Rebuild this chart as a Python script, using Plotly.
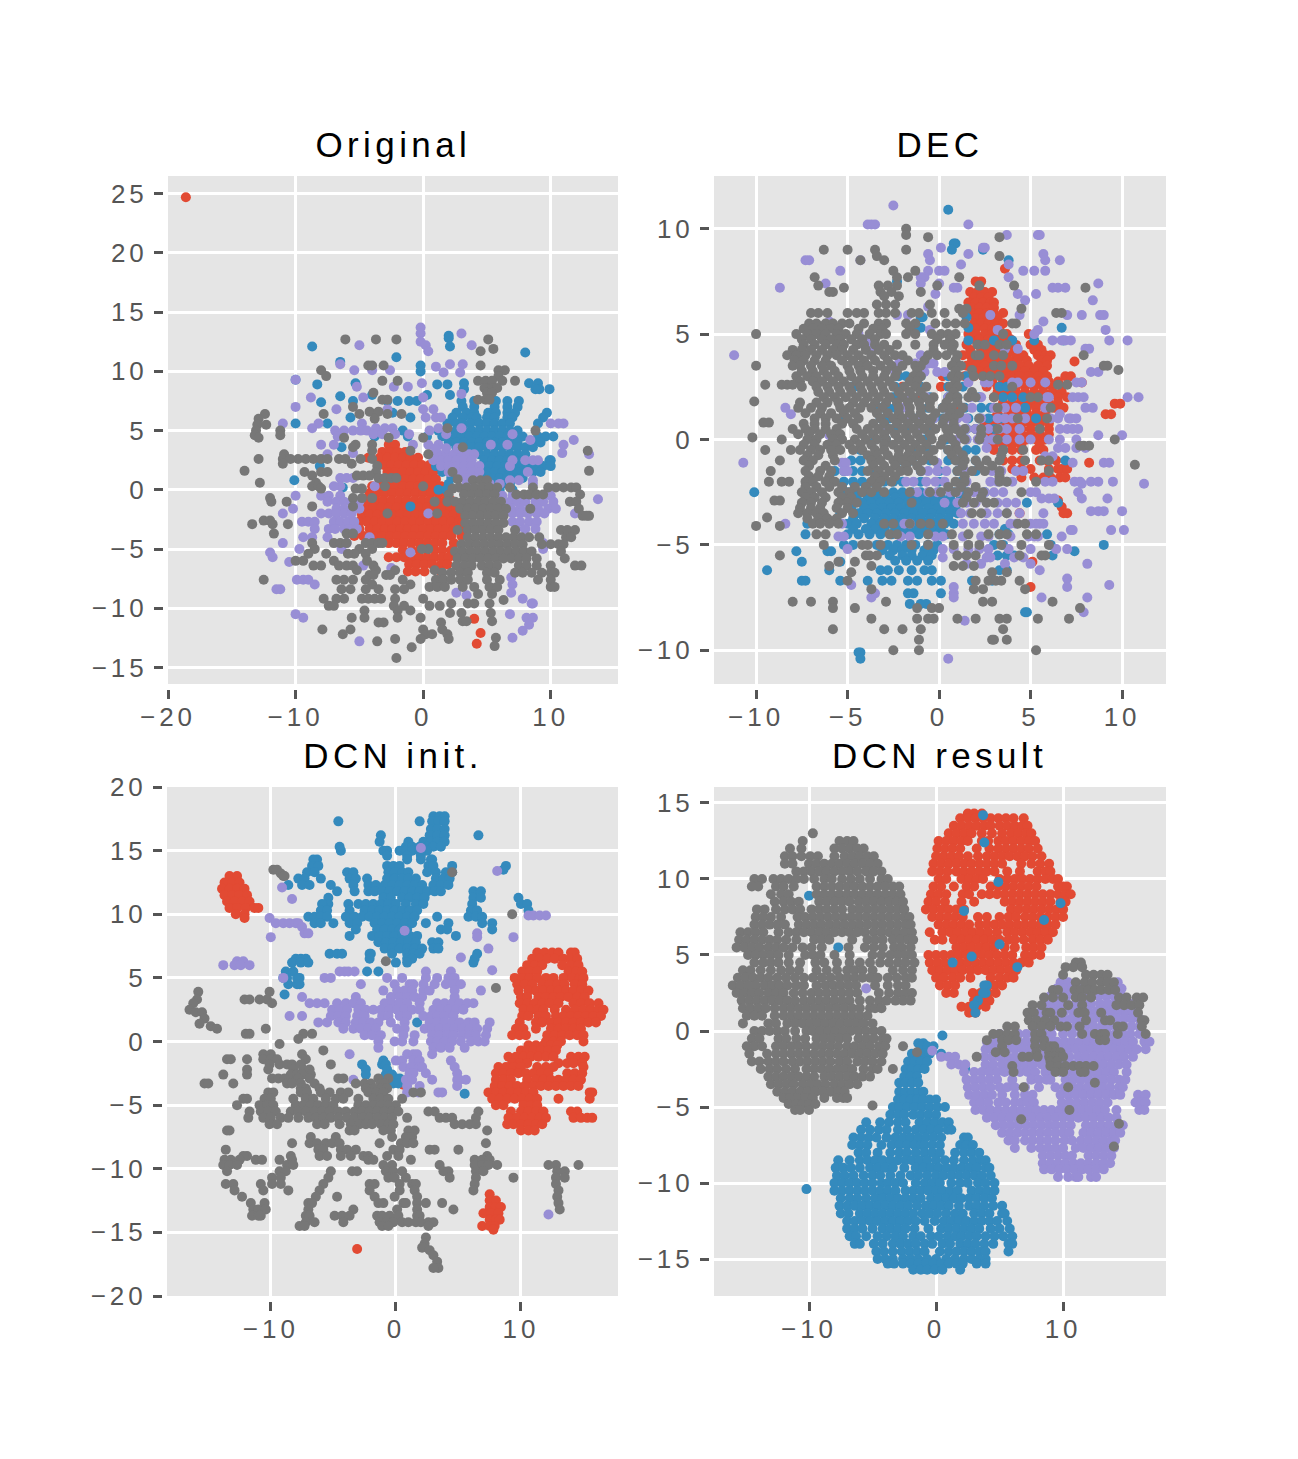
import plotly.graph_objects as go

W, H = 1298, 1459
TITLES = ["Original", "DEC", "DCN init.", "DCN result"]
BOXES = [(168, 618, 176, 684), (714, 1166, 176, 684), (167, 618, 787, 1296), (714, 1166, 787, 1296)]
XR = [(-20, 15.27), (-12.3, 12.4), (-18.3, 17.76), (-17.48, 18.1)]
YR = [(-16.4, 26.5), (-11.6, 12.5), (-20, 20), (-17.43, 16.05)]
XT = [[-20, -10, 0, 10], [-10, -5, 0, 5, 10], [-10, 0, 10], [-10, 0, 10]]
YT = [[-15, -10, -5, 0, 5, 10, 15, 20, 25], [-10, -5, 0, 5, 10], [-20, -15, -10, -5, 0, 5, 10, 15, 20], [-15, -10, -5, 0, 5, 10, 15]]
COLORS = ["#E24A33", "#348ABD", "#988ED5", "#777777"]

# Every row is (y, [x, x, ...]).
P1_RED = [(24.7,[-18.6]),(3.8,[-2.7,-2.2]),(3.2,[-3.2,-2.6,-2,-1.4]),(2.7,[-4.3,-3.4,-2.8,-2.2,-1.6,-1,-.4]),(2.1,[-3.1,-2.5,-1.9,-1.3,-.7,-.1,.5]),(1.5,[-2.8,-2.2,-1.6,-1,-.4,.2,.8]),(.9,[-3.4,-2.6,-2,-1.4,-.8,-.2,.4,1]),(.3,[-4,-3.4,-2.8,-2.2,-1.6,-1,-.4,.2,.8,1.4]),(-.3,[-4.2,-3.6,-3,-2.4,-1.8,-1.2,-.6,0,.6,1.2,1.8]),(-.9,[-4.3,-3.7,-3.1,-2.5,-1.9,-1.3,-.7,-.1,.5,1.1,1.7,2.2]),(-1.5,[-4.5,-3.9,-3.3,-2.7,-2.1,-1.5,-.9,-.3,.3,.9,1.5,2.1,2.6]),(-2.1,[-4.8,-4.2,-3.6,-3,-2.4,-1.8,-1.2,-.6,0,.6,1.2,1.8,2.4,3]),(-2.7,[-5,-4.4,-3.8,-3.2,-2.6,-2,-1.4,-.8,-.2,.4,1,1.6,2.2,2.8,3.1]),(-3.3,[-5,-4.2,-3.6,-3,-2.4,-1.8,-1.2,-.6,0,.6,1.2,1.8,2.4,3.1]),(-3.9,[-5.4,-4.7,-3.8,-3.2,-2.6,-2,-1.4,-.8,-.2,.4,1,1.6,2.2,3]),(-4.5,[-2.7,-2.1,-1.5,-.9,-.3,.3,.9,1.5,2.4]),(-5.1,[-1.6,-.9,-.3,.3,.9,1.5,2.2]),(-5.7,[-2.7,-2.1,-1.5,-.9,-.3,.3,.9,1.5,2,2.6]),(-6.3,[-1.1,-.5,.1,.7,1.4,1.9]),(-6.9,[-1.2,-.6,.1,1.4]),(-10.9,[4]),(-12.1,[4.5]),(-13,[4.2])]
P1_BLUE = [(13,[2]),(12.8,[2]),(12.1,[-8.7,2.1]),(11.6,[8]),(11.2,[-2.1]),(10.8,[-6.5]),(10.5,[-.2]),(10,[-.2]),(9.3,[-10]),(9,[-5.3,3.2,8.3,9]),(8.9,[-8.3,1.1,1.9]),(8.5,[3.2,9.1,9.9,8.8]),(8,[-4,.3,2.1]),(7.9,[-6.5]),(7.5,[-5.5,-2.8,-2,-1.1,-.5,3,4,5.7,6.6,7.5]),(7.4,[-8]),(7,[3.1,4,5.6,6.6,7.4]),(6.5,[-2.4,2.6,3.4,4,5.1,5.7,6.6,7.2,9.7]),(6.1,[-5.7,-1,2.3,3.1,3.8,4.2,5,5.6,6.6,7,9.4]),(5.6,[-10,-7.5,1.9,2.6,3.1,3.7,4.4,5,5.6,6.2,6.8,9]),(5,[-1.6,1.2,2,2.6,3.2,3.8,4.4,5,5.6,6.2,6.8,7.4]),(4.5,[-3.8,-1.2,.3,1.5,2.4,3,3.6,4.2,4.8,5.4,6,6.6,7.2,7.8,9,9.6,10.2]),(4,[2,2.6,3.2,3.8,4.4,5,5.6,6.2,6.8,7.4,8.6,9.2]),(3.6,[-6.4,2.6,3.2,3.8,4.4,5,5.6,6.2,6.8,7.4,8,8.6]),(3,[4.4,5,5.6,6.2,6.8,7.4,8]),(2.5,[4.8,5.4,6,6.6,7.2,7.8,9.9,10]),(2,[-8.1,1,4.6,5.2,5.8,6.4,7,7.6,8.2,8.8,9.4,10]),(1.5,[1.5,5,5.6,6.2,6.8,7.4,8,8.6,9.2]),(1,[2.2,4.6,5.4,6,6.6,7.2,7.8]),(.8,[-10.1]),(.5,[2,5.6,6.2,6.8]),(.2,[-6.3]),(0,[1.2,1.8,5,6,7]),(-1.4,[-1])]
P1_PURPLE = [(13.7,[-.2]),(13.2,[3,-.2]),(12.5,[-.2]),(12.2,[.2,3.8,-5]),(11.7,[.4]),(10.6,[-6.5,2.1,3.1]),(10.4,[1]),(10.1,[-2.6,-5.4,-4]),(9.9,[1.6,2.9]),(9.3,[-10]),(9,[-.1]),(8.7,[-1.2,-2.3,-5.2]),(8.1,[3]),(7.8,[-8.8,-4.7,0]),(7,[-10]),(6.8,[-2.8,0,.8,-6.8]),(6.1,[.2,1,1.4]),(5.6,[-11,-8.2,-4.8,10,10.6,11]),(5.2,[-8.7,-3.7,-3,-2.4,1.2,3]),(5,[-6.2,-6.9,-5.5,-4.9,-4.4,.5]),(4.7,[-3.9,-3.2,-2.2,-1.1,1.8,7]),(4.5,[-6.7]),(4.2,[8.4,11.8]),(3.8,[-8,-7,-.8,.4,1.2,5.3,6.6,11]),(3.1,[-5.5,10.9]),(3,[13,-7.5,.6,1.2,1.8,2.4,3,3.6,4]),(3.5,[1,1.8,2.7]),(2.5,[.8,1.4,2,2.6,3.2,3.8,7,8,8.6,9]),(2,[1.4,2,2.6,3.2,3.8,4.4,6.8]),(1.5,[2,2.6,3.2,3.8,4.4,8.2]),(1,[-6.5,-6,-5.5,2.8,3.4,4]),(.8,[8.6,7.5,6.8]),(.5,[3.4,5.2,6,8.6]),(.3,[-6.5,-7,-3.8]),(-.5,[-10,-8,-7.4,-6.5,6.2,7,7.8,8.6,9.4,10]),(-.8,[13.7]),(-1,[-7.5,-6.8,-6.2,-5.6,-5,6,6.8,7.4,8,8.8,9.4,10.2]),(-1.6,[-10.2,-6.8,-6.2,-5.6,-5,6.9,7.6,8.3,9,9.8,10.4]),(-2,[-11,-8,-7.4,-6.8,-6.2,-5.6,.4,7,7.6,8.2,8.9,9.5,11.9]),(-2.7,[-9.5,-9,-8.5,-7,-6.5,-5.9,-5.4,7,7.6,8.3,8.9]),(-3.3,[-8.5,-7.4,-6.9,-6.2,-5.8,-5.2,7.3,8,8.8]),(-4,[-9.4,-8.7,-7.5,-4.2]),(-4.5,[-11,-6,9.4]),(-5,[-9.7,9.4,-6.4]),(-5.3,[-12,-1]),(-5.7,[-11.8]),(-6.1,[-10.5]),(-6.4,[-4.7]),(-6.6,[-2.5]),(-7.4,[6.9]),(-7.6,[-9.9,-9.4,-9]),(-8,[7,-8.5]),(-8.4,[-11.2,-11.5]),(-8.7,[2.6,6.9]),(-8.9,[3.4]),(-9.2,[7.8]),(-9.6,[8.5,8.6]),(-10.5,[6.8,-10]),(-10.8,[8.1,8.6,-9.4]),(-11.4,[8.3]),(-11.9,[7.8]),(-12.5,[7]),(-12.8,[-5])]
P1_GRAY = [(12.7,[-6.1,-3.7,-2.1,5.1]),(11.9,[5.5]),(11.7,[4.5]),(10.5,[-4.3,-4,-3.1,4.5]),(10.1,[-8,6.4,5.9]),(9.6,[-7.6,5.9]),(9.2,[-2,-3.2,4.3,4.9,5.4,6.2,7.2]),(8.6,[4.8,5.4,5.8]),(8.2,[-3.9,5,5.4]),(7.6,[-3.2,-2.8,4.3,4.9,5.2]),(7,[-5.5]),(6.6,[-4.2,-3.5]),(6.4,[-12.4,-7.8,-5,-1.7,-2.8]),(6,[-12.9,-3.8]),(5.5,[-13,-12.3]),(5.2,[1.9]),(5,[-13.1,-11.2,8.8]),(4.6,[-13.2,-11.2]),(4.4,[-12.9,-6.2,-2.7,0]),(3.8,[-5.3,-4]),(3.6,[3.1,-5.5]),(3.3,[-4,-1,12.9]),(3,[-10.9,.4]),(2.6,[-12.9,-11,-10.4,-9.8,-9.2,-8.6,-8,-7.5,-6.6,-6.1,-4.9,-4]),(2.2,[-11,-5.6]),(2,[-3.6]),(1.6,[-14,13]),(1.5,[-9.3,-8,-7.5,-3.7,2.3]),(1.2,[-8.7,-5.2,-4.7,-4.2]),(1,[-3.5,-3,-2.5,-2.1]),(.9,[2.7]),(.6,[-8.4,-12.8]),(.3,[-8.7,-8.2,-3,0]),(.1,[-8,-5.3,-4.8,2.3]),(-.7,[-5.5,-4.8,-12,-4]),(-1,[-10.7,-11.9,.9]),(-1.4,[-8.7,-5.5]),(-2,[1.1,-2.8]),(-2.6,[-12.5,-12]),(-2.9,[-13.4,-11.8,-10.6]),(-3.7,[-11.7,-6,-5.5]),(-4.5,[-8.7,-7,-6.5,-6,-4.5,-4,-3.5,-3.2]),(-5,[-8.5,-5,-4,.4,-.1]),(-5.4,[-9,-7.6,-5.4,-5.9,-4.5]),(-6,[-10,-9.4,-7,-4.4]),(-6.4,[-8.6,-8,-6.6,-6,-5.5,-3.9]),(-6.8,[-5.2,-3.7,-2.2,.9]),(-7.2,[-4.2,-3.9,-2.9,-2.6]),(-7.6,[-12.5,-6.8,-6.2,-5.5,-4.5,-1.6]),(-8,[-4,-1,1]),(-8.4,[-3.5,-4.5,-2.2,-1.5,-5.7,-6.4]),(-9.2,[-6.8,-7.8,-6.2,-4.8,-4.3,-3.8,-3.3,-2.2,0]),(-9.8,[-7.4,-7,-2.3,-1.5,1.3,.5]),(-10.2,[-2,-1,-4.6]),(-10.8,[-2,-5.6,-4.6,-.2]),(-11.2,[-3.5,-3.1,1.4]),(-11.8,[-7.9,-5.7,0,1.5]),(-12.2,[-6.3,.2,.7,1.9]),(-12.6,[-2.2,-.2,2]),(-12.8,[-3.6]),(-13.3,[-.9]),(-14.2,[-2.1]),(-10.4,[3,5.3,2.1]),(-11.1,[3.1,3.4,5.4]),(-9.6,[3.5,4,5.2,2.2]),(-12.5,[5.7]),(-13.2,[5.6]),(.8,[3.9,4.5,5]),(.2,[2.8,3.4,4,4.6,5.2,5.8,6.8,8.6,9.8,10.4,11,11.6,12]),(-.4,[2,3.2,3.8,4.4,5,5.6,7.3,7.9,8.3,8.9,9.4,12.3]),(-1,[1.9,2.5,3.1,3.7,4.3,4.9,5.5,6.1,11.5,12]),(-1.6,[2.9,3.5,4.1,4.7,5.3,5.9,6.5,8.4,12.2]),(-2.2,[3.3,3.9,4.5,5.1,5.7,6.3,12.5,13,12.8]),(-2.8,[3.3,3.9,4.5,5.1,5.7,6.3]),(-3.4,[2.7,3.5,4.1,4.7,5.3,5.9,7.2,10.8,11.3,11.9]),(-4,[3.5,4.1,4.7,5.3,5.9,6.5,7.1,7.7,8.3,9.1,11.2,11.6]),(-4.6,[3,3.6,4.2,4.8,5.4,6,6.6,7.2,7.8,9.3,10,10.6,11]),(-5.2,[2.5,3.1,3.7,4.3,4.9,5.5,6.1,6.7,7.3,7.9,8.5,10.8]),(-5.8,[2.7,3.3,3.9,4.5,5.1,5.7,6.3,6.9,7.5,8.1,8.9,11.1]),(-6.4,[2.6,3.2,3.8,4.6,5.2,5.8,7.5,8.1,8.9,10,11.9,12.4]),(-7,[1.5,2.2,2.9,3.5,5,5.6,7.2,7.8,8.5,9.3,10,10.3]),(-7.6,[1,1.6,2.2,2.9,3.5,5,6,9,10]),(-8.2,[.5,1.1,1.7,3.1,4,5.2,5.8,10,10.3]),(-8.8,[4.3,5.4]),(-9.3,[6.3])]

P2_RED = [(8.1,[3.6]),(7.5,[2,2.3]),(7,[1.7,2.1,2.5,2.9]),(6.75,[1.9,2.3,2.7]),(6.5,[1.6,2,2.4,2.8,3]),(6.25,[1.8,2.2,2.6,3]),(6,[1.8,2.2,2.6,3,3.5]),(5.75,[2,2.4,2.8,3.2]),(5.5,[1.9,2.3,2.7,3.1,3.5]),(5.25,[2,2.5,2.9,3.3]),(5,[1.6,2,2.5,2.9,3.3,3.7,4.9]),(4.75,[1.7,2.2,2.7,3.1,3.5,3.9]),(4.5,[1.5,2.1,2.5,3,3.4,3.8,4.2,5,5.4]),(4.25,[1.7,2.3,2.8,3.2,3.6,4,5.2,5.6]),(4,[1.3,1.7,2.2,2.7,3.2,3.7,4.2,4.6,5.4,5.8,6.1]),(3.75,[1.8,2.3,2.8,3.3,3.8,4.3,4.8,5.6,5.9]),(3.7,[7.4]),(3.5,[1.5,2,2.5,3,3.5,3.9,4.4,4.9,5.4,5.9]),(3.25,[2.2,2.7,3.2,3.7,4.2,4.7,5.2,5.7]),(3,[.2,1.4,1.9,2.4,2.9,3.4,3.9,4.4,4.9,5.4,5.9,6.9,7.2]),(2.75,[2.9,3.5,4,4.5,5,5.5,6,6.5]),(2.7,[7.8]),(2.5,[.1,-2,2.6,3.2,3.7,4.2,4.7,5.2,5.7,6.2,6.7]),(2.25,[3.2,3.7,4.2,4.7,5.2,5.7,6.2,6.7]),(2,[-1,3,3.5,4,4.5,5,5.5,6,6.5,7]),(1.75,[3.5,4,4.5,5,5.5,6,6.5]),(1.7,[9.6,9.9]),(1.5,[.8,3.8,4.3,4.8,5.3,5.8,6.3,6.8]),(1.25,[3.2,3.8,4.3,4.8,5.3,5.8]),(1.2,[9.1,9.4]),(1,[3,3.5,4,4.5,5,5.5,6]),(.75,[2.5,3,3.5,4,4.5,5,5.5,6]),(.5,[2,2.5,3,3.5,4,4.5,5,5.5,6]),(.25,[2.5,3,3.5,4,4.5,5,5.5,6]),(0,[2.8,3.3,3.8,4.3,4.8,5.3,5.8]),(-.25,[3,3.5,4,4.5,5.5]),(-.5,[3,3.5,4,4.5,5.3,5.7]),(-1,[1,3.5,4,4.5,5.5,5.9,6.4]),(-1.1,[8.2]),(-1.4,[4,4.5,5,6,6.5,6.7,7]),(-1.8,[6.6,6.9,4.5,5.2,5.7,6.1]),(-2.9,[6.5]),(-3.2,[6.7]),(-3.5,[7,6.8,4.4]),(-5.8,[5.1]),(-7,[5])]
P2_BLUE = [(10.9,[.5]),(9.3,[.9,.8]),(9,[.7,2.4]),(8.5,[3.8]),(7.5,[-2.3]),(5.8,[-1,-.9,1.5]),(5.3,[-1,-1.2,6.7,1.6]),(4.7,[3,1.6,4,5.2,6.8]),(3,[-2.2,-1.8,-1,.5,1,1.5]),(2.5,[-4.8,-4.4,-2.4,-1,.5,1.3,3.3,3.7]),(2,[-2.5,-1.5,-.5,.5,1,2.2,3.5,4,4.6]),(1.5,[-3.2,-2.8,-2.4,-1.7,-.6,.2,1.4,2.3,2.8,4.7]),(1,[-5.3,-3.2,-2.7,-2.2,-1.2,-.3,.2,1.6,2.2,2.7,3.4,5.3]),(.5,[-3.1,-2.5,-1.8,-.7,1.5,2,3]),(0,[-3.5,-2.9,-.8,.4,1.5,2.2]),(-.5,[-4.3,-1.2,-.5,.5,1.5,2,3.5]),(-1,[-4.8,-4.3,-2.1,-1.5,-.5,.5,1,2,6.9]),(-1.5,[-5.7,-5.2,-4.7,-4.2,-3.5,-1,0,1,2]),(-2,[-5.2,-4.7,-4.2,-3.7,-3,-2.5,-2,-1,0,1.2]),(-2.5,[-10.1,-5,-4.5,-4,-3.5,-3,-2.5,-2,-1.5,-1,-.5,0,.8,1.5,2.5]),(-2.75,[-4.5,-3.9,-3.4,-2.9,-2.4,-1.9,-1.4,-.9,-.4,.1,.6,1.2]),(-3,[-4.7,-4.2,-3.7,-3.2,-2.7,-2.2,-1.7,-1.2,-.7,-.2,.3,.8,4.8,6.5]),(-3.25,[-4.8,-4.1,-3.6,-3.1,-2.6,-2.1,-1.6,-1.1,-.6,-.1,.4,.9]),(-3.5,[-5.4,-4.4,-3.9,-3.4,-2.9,-2.4,-1.9,-1.4,-.9,-.4,.1,.6,1]),(-3.75,[-4.7,-4.1,-3.5,-3,-2.5,-2,-1.5,-1,-.5,0,.5]),(-4,[-7.2,-5,-4.5,-3.7,-3.2,-2.7,-2.2,-1.7,-1.2,-.7,-.2,.3,.8]),(-4.25,[-4.7,-4,-3.5,-3,-2.4,-1.9,-1.4,-.9,-.4,.1,3.6]),(-4.5,[-7.3,-5,-4.4,-3.8,-3.2,-2.6,-2.1,-1.6,-1.1,-.6,-.1,.4,3.3,3.8,5.9]),(-5,[-5.2,-4.7,-3.4,-2.8,-2.3,-1.8,-1.3,-.6,-.1,3,3.5,9,6.1]),(-5.25,[-3.1,-2.5,-2,-1.5,-.8,-.3]),(-5.3,[-7.8,-6.1,-5.9,7.4]),(-5.5,[-2.7,-2,-1.5,-.9,-.4,6.2,3.2,3.7,4.1]),(-5.75,[-2.4,-1.8,-1.2,-.6]),(-5.8,[-7.5,-5.4]),(-6.2,[-9.4,-6,-3.2,-2.8,-2.2,-1.5,-.8,-.4,3.3,3.7]),(-6.7,[-7.5,-7.3,-5.4,-3.9,-3.1,-2.6,-1.7,-1.2,-.4,.1,1.8,2.9]),(-7.3,[-1.7,-1.4,.1]),(-7.8,[-1.6,-1,-.7]),(-8.2,[4.7,4.8]),(-10.1,[-4.3,-4.4]),(-10.4,[-4.3])]
P2_PURPLE = [(11.1,[-2.5]),(10.2,[-3.9,-3.7,-3.5,1.6]),(9.7,[3.7,5.4,5.5]),(9.1,[.1,2.4,2.5]),(8.8,[-.6,1.6,5.7]),(8.5,[-7.3,-7.1,-4.3,-.5,6.6,5.8]),(8,[-5.4,-.6,0,.3,4.6,5.2,5.8]),(8.3,[1.2,3.8]),(7.7,[-.8,3.8,-1]),(7.4,[-6.2,-1,8.7,0]),(7.2,[-8.7,.8,1,6.2,6.5,6.9]),(6.9,[-.2,4.3,5.3]),(6.6,[4.7,8.4]),(6.3,[-.6]),(5.9,[-2.3,-1.7,2.8,4.4,7,7.8,8.8,9]),(5.6,[-6,5.7]),(5.2,[3.2,5.4,9.1,-.5]),(5,[-4.4,5.2]),(4.7,[-3.8,6.2,6.7,6.9,7.2,9.3,10.3]),(4.3,[-3.7,3.6,4.3,8,8.2]),(4,[-1,-11.2]),(3.6,[-1.3,-.6,-.3,-2.2]),(3.2,[-2.4,-.1,.3,-.8,8.3,8.7]),(2.7,[1.6,2.7,2.5,4,4.3,5,5.8,7.5,7.8]),(2,[-1.6,-.7,.5,1.7,2.3,5.9,6,7.3,7.6,7.9,10.3,10.9]),(1.5,[-8.4,-2,.4,1.8,3,3.6,4.2,5.8,8,8.4]),(1.2,[-8.1,6.6]),(1,[-1.1,-1.6,-.3,.4,1,1.5,2.3,3.2,3.6,4,4.7,6.1,6.5,7.1,7.2,7.5]),(.5,[-2.8,-1,.5,1,1.5,2,2.7,3.3,3.7,4.4,6.6,7,7.3,7.6]),(.2,[-6,8.7,10]),(0,[1,1.5,2.5,2.1,2.9,5,6,6.6,7.5,4.4,3.7,3]),(-.4,[6.5,6.9,7.5,8,2.6]),(-.8,[5.8,6.2]),(-1.1,[-10.7,7.3,-5.3,-5.1,-.1,9,9.3]),(-1.5,[-5.2,-5,-1,-.6,-.1,.4,1.4,2.9,3.4,4.2,4.6]),(-2,[-1.8,-1.4,-.7,-.2,.3,1.5,2.8,3.2,3.7,4,7.4,7.7,8.3,8.7,9.5,6.2,5.8]),(-2.1,[11.2,7.8]),(-2.5,[-1.2,-.6,-.1,.6,1,1.9,2.5,3,3.5,5,5.3,7.6]),(-2.8,[5.6,6,6.3,7.8,9.2]),(-3,[.3,1,1.5,2,2.6,3.2,3.7,4.2]),(-3.4,[8.3,8.7,9,10]),(-3.5,[1.2,1.7,2.6,3.2,3.7,4.4,5.7]),(-4,[-8.4,-5.3,-1.9,-1.6,1.3,1.9,2.5,3,3.9,4.2,5,5.3,5.5,5.7]),(-4.3,[7.2,7.3,9.4,10.1]),(-4.6,[-5.5,-5.2,-2.1,-1.6,-.2,.2,1.3,2.3,2.7,3.9,4.9,5.2,5.4,6.7]),(-5.2,[-5,.2,.8,1.6,2.2,2.7,3.8,5,6.4,7]),(-5.6,[.2,2.6,2.8,4.1,4.6]),(-5.9,[1.5,2.3,3.6,5,8.1]),(-6.2,[5.5]),(-6.6,[7]),(-6.9,[-4.8,9.3]),(-7,[.8,7]),(-7.3,[.8,-3.5]),(-7.5,[5.6,.8,8.1,-3.7]),(-8.2,[7.9]),(-8.6,[1.4]),(-10.4,[.5])]
P2_GRAY = [(10,[-1.8]),(9.7,[-1.8]),(9.6,[-.6,3.3]),(9,[-6.3,-5,-3.5,-1.8]),(8.7,[-3.4,3.3]),(8.5,[-3,-4.3]),(8,[-2.5,-1.3]),(7.7,[-6.8,-1.7,-2.3,1.1]),(7.3,[-6.6,-.1,2.2,4.1,-3.3,-2.8,-2.3]),(7.2,[-5.2,8]),(7,[-5.8,-6,-1,-3.2,-2.6]),(6.8,[-3,-2.2]),(6.4,[-.5,-3.4,-2.9,-2.4]),(6.2,[4.5,1.1,1.5]),(6,[-7,-6.6,-6.1,-5,-4.5,-4.1,-3.3,-2.9,-2.4,-1.5,-1.1,-.4,.3,1.3,6.7,6.4]),(5.5,[-7.1,-6.7,-6.2,-5.8,-5.3,-4.9,-4.1,-3.3,-2.9,-1.8,-1.3,-.2,.4,.9,1.4,4.2,4]),(5.25,[-7.4,-6.9,-6.4,-5.9,-5.5,-4.4,-3.6,-3.1,-1.6]),(5,[-7.8,-7.2,-6.7,-6.2,-5.6,-5.1,-4.5,-3.8,-3.2,-2.9,-1.8,-1.3,-.4,.1,.5,.9,3.5,-10]),(4.75,[-7.5,-7,-6.4,-5.9,-5.4,-4.8,-4.2,-3.5,-.1,.6]),(4.5,[-7.4,-6.8,-6.2,-5.6,-5.2,-4.5,-4.1,-3.5,-3,-2.3,-1.3,-.3,.3,.8,2.1,2.5,3.3,3.7]),(4.25,[-8,-7.5,-7,-6.4,-5.8,-5.3,-4.7,-4,-3.3,-2.7,-.3,.7]),(4,[-8.3,-7.8,-7.3,-6.7,-6.1,-5.6,-5,-4.4,-3.7,-3,-2.4,-2,-.6,-.1,.4,1,2,2.2,3,3.5,7.9]),(3.75,[-7.9,-7.4,-6.8,-6.2,-5.3,-4.7,-4.1,-3.5,-2.8,-1.7,-.8,.9]),(3.5,[-10,-8,-7.6,-7,-6.4,-5.9,-5,-4.4,-3.9,-3.2,-2.6,-2,-1.3,-1,.7,1.2,3,3.4,4,9,9.2]),(3.3,[9.8,1.8]),(3.25,[-7.5,-6.9,-6.3,-5.7,-4.9,-4.3,-3.6,-2.9,-2.3,-1.2,.9]),(3,[-7.8,-7.2,-6.7,-6.1,-5.5,-4.8,-4.2,-3.6,-3,-2.4,-1.4,-1,.7,1.1,1.9,2.4,2.8,3.3]),(2.75,[-7.6,-6.9,-6.4,-5.8,-5.2,-4.5,-3.9,-3.3,-2.7,-1.6,-1.2,.9]),(2.6,[-9.5,-8.6,-8.3,-8,6.5,7]),(2.5,[-7.5,-6.7,-6.1,-5.5,-4.9,-4.3,-3.7,-3.1,-2.5,-1.9,-1.3,-.7,.6,1,4]),(2.25,[-6.6,-6,-5.4,-4.8,-4.2,-3.6,-3,-2.2,-1.6,-1,.8,1.8]),(2,[-6.3,-5.7,-5.1,-4.5,-3.9,-3.3,-2.7,-2,-1.4,-.8,-.3,.6,1,1.6,2,3,5,5.4]),(1.8,[-10.1]),(1.75,[-7.6,-6.7,-6.1,-5.5,-4.7,-4.1,-3.5,-2.9,-2.3,-1.7,-1.1,-.5,.4,1]),(1.5,[-7.7,-7,-6.4,-5.4,-4.9,-4.3,-3.7,-3.1,-2.2,-1.6,-1,-.5,.2,.7,1.3,3.2,6.1]),(1.25,[-7.3,-6.5,-5.9,-5.2,-4.6,-3.4,-2.8,-2.2,-1.6,-1,-.2,.6,1.1]),(1,[-6.8,-6.2,-5.6,-5,-4.4,-3.2,-2.5,-2,-1.4,-.8,-.4,.3,.8,2.2,4.3,5.9]),(.8,[-9.6,-9.3]),(.75,[-7.4,-6.8,-6.2,-5.3,-4.7,-3.6,-3,-2.3,-1.7,-1.1,-.5,.2,.8]),(.5,[-8,-7.3,-6.8,-6.2,-5.6,-4.5,-3.9,-3.3,-2.7,-2,-1.4,-.8,-.2,.4,.9,1.4,2.3,3.2,5.5]),(.25,[-7.7,-7.1,-6.5,-5.9,-5.4,-4.2,-3.6,-3,-2.4,-1.8,-1.2,-.5,.5,1.2,2.3]),(.1,[-10.2]),(0,[-8.6,-7.2,-6.7,-5.8,-5.3,-4.6,-4,-3.4,-2.9,-2.2,-1.6,-1,-.4,.2,.7,1.4,2.2,3.2,9.6]),(-.25,[-7.4,-6.8,-6.1,-5.6,-4.9,-4.3,-3.7,-3,-2.5,-1.9,-1.3,-.7,.1,.9]),(-.3,[7.7,7.9,8.2]),(-.5,[-9.5,-8.1,-7.6,-7,-6.5,-5.9,-5.4,-4.7,-4.2,-3.5,-3,-2.2,-1.6,-1,-.3,.5,1,3.5,4.6]),(-.75,[-7.2,-6.6,-5.8,-3.9,-3.4,-2.8,-2.2,-1.7,-1.2,-.6,.7,1.3,3.4]),(-1,[-8.7,-7.4,-6.9,-5.7,-3.7,-3.2,-2.5,-2,-1.5,-.9,-.3,.9,1.4,2,2.6,3.3,4.7,5.6,6]),(-1.2,[10.7]),(-1.25,[-7.1,-6.2,-3.6,-3,-2.4,-1.8,-1.2,1.3,2.2,2.9]),(-1.5,[-9.2,-7.3,-6.5,-5.9,-3.9,-3.3,-2.7,-2.1,-1.7,-1,1,1.8,2.5,3.3,6]),(-1.75,[-7.1,-6.6,-6,-3.5,-3,-2.4,1.4,3.3]),(-2,[-9.3,-8.6,-8.2,-7.3,-6.9,-6.2,-5.7,-3.7,-3.2,-2.6,.9,1.4,3.3,3.7,5.3]),(-2.25,[-7.3,-6.7,-6,-5.3,-4.6,-4,-3.4,.5,1.2,2]),(-2.5,[-7.5,-7,-6.4,-5.5,-4.9,-4.2,-3.7,-3,-1.6,-.5,.1,.9,1.6,2.4,4.5]),(-2.75,[-7.3,-6.8,-6.2,-5.3,-4.8,1.5,2.3]),(-2.9,[-9,-8.7]),(-3,[-7.5,-7,-6.4,-5.5,-5,-4.5,-1.5,1.3,1.9,2.6,3]),(-3.25,[-7.6,-7,-6.5,-5.6,-5]),(-3.5,[-7.7,-7.2,-6.7,-6.3,-5.3,-4.7,1.8,2.3,3.7]),(-3.7,[-9.4]),(-3.75,[-7.2,-6.6,-6.1,-5.6]),(-4,[-6.9,-6.5,-6,-5.5,-3,-2.5,-1.6,-1,-.5,.2,4.3,4.7]),(-4.1,[-10,-8.7]),(-4.5,[-6.7,-6.2,-2.7,-2.3,-.6,.7,1.6,2.7,3.3,3.7,4.8,5.3]),(-5,[-6.3,-4.2,-3.9,-3.2,-1.5,-.6,.8,1.6,2.2,3.4,4.5,6]),(-5.5,[-8.7,-4,-3.8,-3.4,1,1.5,2,4.4,5.8,5.6]),(-5.8,[-5.5,-4.6]),(-6,[-6,-3.7,.8,1.3,1.9]),(-6.3,[-4.8,2.9,3.7]),(-6.7,[-5,2.7,2,3.4,4.4,3.1]),(-7.1,[-3.7,1.9,2.4,4.7]),(-7.7,[-8,-7,-5.8,-2.9,2.4,2.9,6.2]),(-8,[-5.8,-4.6,-1.2,-.4,0,7.7]),(-8.5,[-3.7,-1.2,-.6,-.3,1,2,3.3,3.7,7.1,5.4]),(-9,[-5.8,-3,-2,-1,3.5]),(-9.5,[-1.1,2.9,3,3.7]),(-10,[-2.5,5.3,-1.1])]

P3_RED = [(13,[-13.3,-12.7]),(12.5,[-13.7,-13.1,-12.5]),(12,[-13.9,-13.3,-12.7,-12.1]),(11.5,[-13.7,-13.1,-12.5,-11.9]),(11,[-13.5,-12.9,-12.3,-11.7]),(10.5,[-13.3,-12.7,-12,-11.3,-11]),(10,[-12.8,-12.1]),(9.7,[-12.1]),(7,[11.3,11.9,12.5,13,14,14.3]),(6.5,[10.9,11.5,12.1,12.7,13.4,14,14.5]),(6,[10.5,11.1,11.7,13.3,14,14.6]),(5.5,[10.1,10.7,11.3,13.8,14.4,14.9]),(5,[9.5,10.1,10.7,11.3,12,12.6,13.4,14.1,14.7,15]),(4.5,[9.7,10.3,10.9,11.7,12.3,12.9,13.5,14.3,14.9]),(4,[9.8,10.6,11.2,11.8,12.4,13,13.6,14.2,14.8,15.4]),(3.5,[10,10.5,11.4,12,12.6,13.2,13.8,14.5,15.1]),(3,[9.9,10.5,11.1,11.7,12.3,13,14.2,14.8,15.5,16.2]),(2.5,[10.2,10.8,11.3,11.8,12.7,13.6,14.3,15,15.6,16.2,16.6]),(2,[10.1,10.6,11.4,12,12.8,13.4,14,14.6,15.2,15.8,16.4]),(1.5,[9.9,11.2,11.7,12.4,13,13.6,14.2,14.8,15.4,16]),(1,[9.6,10.2,11.2,12.4,13,13.6,14.2,14.8]),(.5,[9.3,9.9,10.4,12.1,12.7,13.3,13.9,14.5,15]),(0,[12,12.6,13.2,15]),(-.3,[10.6,11.2,11.8,12.4,12.9]),(-.7,[10,10.5,11,11.6,12.2,12.8]),(-1.2,[9,9.6,10.2,10.8,11.4,12,12.6,14,14.6,15.1]),(-1.7,[9.3,9.9,10.5,13,13.7,14.2,14.9]),(-2,[8.2,8.8,9.4,10,11.3,12,12.6,15]),(-2.5,[8,8.6,9.2,9.8,10.4,11,11.6,12.2,13.7,14.3,14.9]),(-3,[8,8.6,9.2,10.5,11.2,11.8,12.4,13,13.6,14.2,14.8]),(-3.4,[.6]),(-3.5,[7.9,8.5,9.1,9.7,10.3,11,11.6,12.2,12.8,13.4,14,14.6]),(-4,[7.4,8,8.6,9.2,9.8,10.4,11,15.5,15.7]),(-4.5,[7.7,8.3,8.9,9.5,10.1,10.7,11.3,13,15.5]),(-5,[8,8.6,10.2,10.8,11.3]),(-5.5,[9.2,10,10.6,11.2,11.8,14,14.5]),(-6,[9,9.7,10.3,10.9,11.5,12,14.2,14.8,15.3,15.7]),(-6.5,[8.9,9.4,10,10.6,11.2,11.7]),(-7,[10,10.6,11.1]),(-12,[7.5]),(-12.5,[7.5,8]),(-13,[7.5,8,8.4]),(-13.5,[7,7.6,8.2]),(-14,[7.5,8,8.3]),(-14.5,[6.9,7.5,7.9]),(-14.8,[7.8]),(-16.3,[-3.1])]
P3_BLUE = [(17.7,[3,3.5,3.9]),(17.3,[-4.6,1.9,2.9,3.4,3.9]),(16.7,[2.8,3.3,3.9]),(16.2,[-1.2,2.7,3.3,3.9,6.6]),(15.7,[-1.3,1,2.2,2.8,3.3,3.9]),(15.3,[-4.5,.8,1.3,1.9,2.5,3,3.6]),(15,[-4.4,-1,-.7,.3,.8,1.3,1.9,2.5]),(14.6,[-.7,.9,2]),(14.3,[-6.3,-6.6,.9,2,2.8,2.9]),(13.8,[-6.7,-6.2,-.7,-.2,.3,2.6,2.8,3,4.5,8.8]),(13.5,[8.6]),(13.3,[-7.1,-6.5,-3.9,-3.4,-.6,-.1,.5,1,2.5,3.2,4,4.5]),(12.8,[-7.8,-7.3,-6,-3.7,-3.2,-2.3,-.7,-.1,.5,1,1.6,3.2,3.8,4.3]),(12.3,[-8.6,-7.5,-6.9,-5.2,-3.4,-2.2,-1.6,-.9,-.3,.3,.9,1.5,2.1,3,3.6,4.2]),(11.8,[-4.7,-3.3,-2.2,-1.7,-1.1,-.5,.1,.7,1.3,1.9,2.5,3.1,3.6,6.2,6.8]),(11.3,[-5.4,-1,-.4,.5,1.1,1.7,2.3,6.2,6.8,9.8]),(10.8,[-5.4,-5.9,-3.8,-3,-2.4,-1.8,-1.2,-.6,0,.8,1.6,2.2,6.1,10,10.5]),(10.3,[-6,-5.5,-3.7,-2.5,-1.9,-1.3,-.7,-.1,.5,1.1,1.7,6,6.5,10.6]),(9.8,[-7,-6.5,-6,-5.5,-4,-3.3,-2.7,-2.1,-1.5,-.9,-.3,.3,.9,1.5,3.3,5.8,6.4,6.9]),(9.3,[-6.5,-6,-5,-3.7,-3.1,-1.7,-1.1,-.5,.1,.7,1.3,2.4,4.2,6.9,7.7]),(8.8,[-3.2,-1.5,-.9,-.3,.3,.9,3.6,4.1,7.7]),(8.3,[-3.7,-1.9,-1.3,-.7,-.1,.5,1.1,1.7,4.8]),(7.8,[-1.4,-.8,-.2,.4,1,1.6,2.9,3.4]),(7.3,[-.9,-.3,.3,.9,1.5,2.1,3,3.4]),(6.9,[-5.3,-4.7,-4.3,-2.1,-2,-.3,.9,1.4,1.9,6.5]),(6.5,[-8,-7.6,-7.2,-2.1,.9,1.3,6.3]),(6.2,[-8.3,-7.6,-7,0,.9,6.2]),(5.5,[-8.8,-8.2,-2.3,-1.4]),(5,[-9,-8.7,-7.9,-7.7]),(4.5,[-8.6,-7.9,-7.7]),(3.7,[-8.9]),(1.5,[1.7]),(-1.5,[-1]),(-1.8,[-1.1,-.8,-2.7]),(-2.2,[-2.4,-.7]),(-2.6,[-2.4,-.8,-.3]),(-2.9,[-.4,0,.3,1]),(-3.3,[-.2,.2]),(-4.1,[5.5])]
P3_PURPLE = [(15.2,[2]),(13.4,[8.1]),(12.1,[-9.1]),(11.2,[-8.3]),(9.9,[10.6,11,11.5,12]),(9.7,[-10.1]),(9.3,[-9.6,-9,-8.5,-8,-7.8]),(9,[-7.5]),(8.7,[.7]),(8.5,[-7.3,-7,6.5]),(8.2,[-10,6.5,9.4]),(7.3,[7.4]),(6.6,[5.2]),(6.3,[-12.7,-12.2]),(6,[-13.8,-12.9,-12.4,-11.7]),(5.6,[7.7]),(5.5,[-4.5,-4.1,-3.8,-3.3,2.4,4.4]),(5,[-9,-5.7,-5.2,-.7,.5,2.4,3.3,4.2,4.7]),(4.5,[-2.8,-.1,1.1,1.4,2.2,3.1,4,4.6,5.2]),(4,[-1,.1,.7,1.3,2.2,2.7,4.7,6.8]),(3.5,[-7.5,-3.2,-.4,.3,.9,1.5,2.1,4.7]),(3,[-6.9,-6.3,-5.7,-4.7,-4,-3.4,-2.8,-.9,-.3,.3,.9,1.9,3.3,3.9,4.5,5.1,5.7,6.2]),(2.5,[-5.1,-4.5,-3.9,-3,-2.4,-1.8,-1.2,-.5,.1,.7,1.3,1.9,3,3.6,4.2,4.8,5.4]),(2,[-8.5,-7.5,-5.2,-4.6,-4,-3.1,-2.5,-1.1,-.6,.3,.9,2.2,2.8,3.3,3.9,4.6]),(1.5,[-6.2,-5.5,-4.6,-4,-3.2,-2.6,-2,-1.4,-.4,.7,2.7,3.3,3.9,4.5,5.1,5.8,6.3,7.5]),(1,[-4.2,-3.4,-2.8,-2.2,-1.6,.1,.7,2.3,2.9,3.5,4.1,4.7,5.3,5.9,6.5,7.3]),(.5,[-2.5,-1.9,-1.2,.6,1.5,2.9,3.5,4.1,4.6,5.3,5.9,6.4,7.2]),(0,[-1.4,-.1,.5,1.4,2.8,3.3,3.9,4.5,5.2,6,6.6,7.1]),(-.5,[3,3.6,4.3,5.5,-1.4]),(-1,[-3.7,.9,1.4,1.7,2.9]),(-1.5,[0,.5,1.4,1.9,4.4]),(-2,[.6,1.2,1.9,2.1,4.7]),(-2.5,[1.1,1.4,2.4,4.9]),(-3,[-3.4,.8,1.3,2.9,5.1,5.6,4.9]),(-3.5,[.9,1.9,4.9]),(-4,[.9,1.8,3.4,3.7]),(-13.6,[12.2])]
P3_GRAY = [(13.5,[-9.8,-9.5]),(13.3,[4.5]),(13.2,[-9.2]),(13,[-9,-8.9]),(10,[9.3]),(6.3,[-.8]),(4.2,[8]),(3.9,[-10.1,-15.8]),(3.3,[-12.1,-11.7,-10.9,-10.3,-15.9]),(3,[-9.9,-16.2]),(2.5,[-16.5]),(2.3,[-16,-15.5]),(1.8,[-15.3]),(1.4,[-15.7]),(1.2,[-14.8]),(1,[-10.4,-14.3]),(.6,[-12,-11.7,-6.7,-7.4]),(.2,[-7.8]),(-.2,[-9.3]),(-.7,[-5.8]),(-1,[-10.6,-10,-7.5]),(-1.4,[-13.5,-13.2,-11.9,-10.6,-10,-9.5,-7.2]),(-1.8,[-10.1,-9.3,-8.7,-8.3,-7.6,-5.2]),(-2.2,[-11.9,-10.2,-8.2,-7.4,-6.9]),(-2.6,[-13.8,-11.9,-8.4,-7.9,-7.5,-6.8]),(-2.9,[-9.9,-9.4,-8.9,-7.8,-6.9,-4.6,-4.2,-1.4,-.6]),(-3.3,[-15.3,-15,-13,-8.7,-8.3,-6.5,-7.6,-3.2,-2.5,-2,-1.2,-.9]),(-3.7,[-7.6,-7.2,-6.1,-2.4,-1.8,-1.2,-.7]),(-4,[-10.2,-9.8,-7.6,-7.1,-6,-5.3,-4.4,-3.8,-2.2,-1.6,-1,1.4,2]),(-4.5,[-12.2,-11.9,-10.5,-10,-8.2,-7.2,-6.6,-5.6,-4.8,-4.2,-3,-1.8,-1.2,-.6,.5]),(-5,[-12.7,-10.9,-10.3,-9.8,-8,-7.4,-6.8,-6.2,-5.6,-5,-3,-2.4,-1.8,-1.2,-.6,0]),(-5.5,[-11.7,-10.8,-10.2,-9.6,-8.4,-7.8,-7.2,-6.5,-5.9,-5.3,-4.6,-4,-3.3,-2.7,-2.1,-1.5,-.9,-.3,.2,2.6,3.1,6.6]),(-6,[-11.8,-10.6,-10,-9.2,-8.6,-7.8,-7,-6.4,-5.8,-5.2,-4.6,-3.9,-3.3,-2.7,-2.1,-1.5,-.9,-.3,.9,3.5,4,4.5,6.4]),(-6.5,[-10.1,-9.5,-6.3,-5.7,-4.5,-3.6,-2.9,-2.4,-1.9,-1.2,-.6,-.2,4.7,5.3,5.9,6.4]),(-7,[-13.5,-13.3,-3.7,-3.3,-1,-.4,1,1.5,7.3]),(-7.5,[-6.8,-4.8,-.3,.8,1.3]),(-8,[-8.3,-6.9,-6.3,-5.6,-5.1,-4.5,-1.3,.4,.9,1.4,7.2]),(-8.5,[-13.6,-6.2,-5.8,-4.4,-3.9,-3.2,-.2,.3,2.7,3.1,5]),(-9,[-11.9,-12.2,-8.4,-6.1,-5.5,-4.4,-3.6,-2.6,-2.2,-.7,.2,7.3]),(-9.3,[-13.7,-13.2,-12.5,-11.2,-10.7,-9.3,-8.3,-2.2,-1.8,1.2,6.3,6.9,7.5]),(-9.7,[-13.8,-13.3,-12.7,-8.7,-8.2,-1,-.3,3.5,6.3,6.9,7.4,8.1,12.2,12.8,14.6]),(-10.2,[-13.5,-9.3,-8.8,-5.2,-3.5,-3.1,-.8,-.2,.5,3.8,4.2,6.4,7,12.9,13.5]),(-10.7,[-9.9,-9.2,-5.4,-.6,-.1,.8,4.3,6.4,12.8,13.5,9.4]),(-11.2,[-13.6,-13,-10.8,-9.9,-9.2,-5.8,-2.1,-1.7,.3,1.3,1.6,6.3,12.8]),(-11.7,[-12.9,-10.6,-8.6,-6.1,-2.1,.3,1.5,6.2,13]),(-12.2,[-12.3,-6.4,-4.7,-1.7,-.1,1.7,12.9]),(-12.7,[-11.6,-10.5,-7,-6.7,-1.4,-1,.6,.8,1.7,2.4,3.7,13]),(-13.2,[-11.4,-11,-10.4,-7,-3.4,.1,1.7,4.6,13.1]),(-13.7,[-11.5,-11,-10.8,-7.2,-6.9,-4.9,-4.3,-3.7,-1.5,-1.1,-.5,.2,1.7,1.9]),(-14.2,[-7.2,-6.5,-4.2,-1.3,-.7,-.2,.5,1,1.6,2,2.6,3]),(-14.5,[-7.7,-7.3,-1.1,-.6,2.6]),(-15.4,[2.4]),(-15.9,[2.3]),(-16.2,[2.1]),(-16.4,[2.7]),(-16.8,[3]),(-17.3,[3.3]),(-17.8,[3.4,3])]

P4_RED = [(14.3,[2.5,3,3.6]),(14,[1.9,2.5,3.1,3.7,4.3,4.9,5.5,6.1,6.9]),(13.5,[1.4,2,2.6,3.2,3.8,4.3,5,5.6,6.2,6.8,7.2]),(13,[1,1.6,2.2,2.8,3.6,4.4,5.2,5.9,6.5,7.1,7.5]),(12.5,[.2,.8,1.4,2,2.5,3.6,4.1,4.9,5.5,6.1,6.7,7.3,7.8]),(12,[.1,.7,1.3,1.9,3.2,4.2,4.9,5.5,6.1,6.7,7.3,8]),(11.5,[0,.6,1.2,1.8,2.5,3.3,4,4.6,5.2,5.8,6.4,7,7.6,8.3]),(11,[-.2,.4,1,1.6,2.2,2.8,3.4,4,4.6,5.2,6.7,7.5,8.2,8.9]),(10.5,[-.3,.3,.9,1.6,2.2,2.8,3.4,4,4.6,5.6,6.6,8,8.6,9]),(10,[.2,.8,2,2.6,3.2,3.7,5,5.6,6.2,6.8,7.4,8,8.6,9.2,9.6]),(9.5,[-.2,.4,1.4,2.4,3,4.3,4.9,5.5,6.1,6.7,7.3,7.9,9.6,10,10.3]),(9,[-.4,.2,.8,2.1,2.6,3.6,4.2,4.8,5.4,6,6.6,7.2,7.8,8.4,9,9.6,10.2,10.6]),(8.5,[-.6,0,.7,2,3,5.4,6,6.6,7.2,7.8,8.4,9,9.8,10.2]),(8,[-.8,-.2,.4,1,1.6,2.2,5.9,6.5,7.1,7.7,8.3,8.9,9.5,10]),(7.5,[-.3,.3,.9,1.5,2.1,3.3,4,5,5.7,6.3,7,7.6,8.2,8.8,9.4,10]),(7,[.2,.8,1.4,2,2.6,3.4,4,4.6,5.2,5.8,6.4,7,7.6,8.2,8.8,9.4]),(6.5,[-.5,.5,1.1,1.7,2.3,2.9,3.5,4.1,4.8,5.6,6.2,6.8,7.4,8,8.6,9.2]),(6,[-.1,.5,1.4,2,2.6,3.2,3.8,4.4,5,5.7,6.2,6.9,7.6,8.2,8.8]),(5.5,[1.6,2.2,2.8,3.4,4,4.6,5.4,6.2,7.1,7.7,8.3]),(5,[-.6,0,.6,1.2,1.8,2.4,3,3.6,4.2,4.8,5.4,6,7,7.6,8.2]),(4.5,[-.5,.1,.7,1.3,1.9,2.5,3.1,3.7,4.3,4.9,5.5,6.1,6.7,7.3]),(4,[-.3,.3,.9,1.5,2.1,2.7,3.3,3.9,4.5,5.1,5.7,6.3]),(3.5,[0,.6,1.3,1.9,2.7,4.3,5,5.6,6.1]),(3,[.3,.9,1.5,4,4.6,5.2]),(2.5,[.8,1.4,2.9,3.5,4.1,4.7]),(2,[3,3.6,4.2]),(1.6,[2,2.6,3.2,3.9]),(1.2,[2.6,3.1])]
P4_BLUE = [(14.2,[3.7]),(12.4,[3.8]),(9.8,[4.9]),(8.9,[-10]),(8.4,[9.8]),(7.9,[2.2]),(7.3,[8.5]),(5.7,[5]),(5.5,[-7.7]),(4.9,[2.8]),(4.5,[1.3]),(4.2,[6.4]),(3,[4,3.8]),(2.5,[3.9,3.7]),(2,[3.3]),(1.7,[3]),(1.2,[3.1]),(-.3,[.5]),(-.8,[-1,-1.4]),(-1,[-1.2,-.7,-.2]),(-1.5,[-1.9,-1.4,-.9,-.5,.4]),(-2,[-2.2,-1.7,-1.2,-.7]),(-2.5,[-2.4,-1.9,-1.4,-.9,2.3,6.3]),(-3,[-2.5,-2,-1.5]),(-3.4,[-2.9,-2.4,-1.9,-1.4]),(-4,[-2.9,-2.4,-1.9,-1.4,-1]),(-4.5,[-3,-2.5,-2,-1.5,-1,-.5,0]),(-5,[-3.4,-2.9,-2.3,-1.7,-1.1,-.5,.1,.7]),(-5.5,[-3.6,-3,-2.5,-1.8,-1.2,-.6,0]),(-6,[-5.5,-4.4,-3.7,-3,-2.4,-1.3,-.7,-.1,.5,1]),(-6.5,[-5.9,-5.2,-4.5,-3.9,-3,-2.3,-1.6,-1,-.4,.2,.9,1.2]),(-7,[-6.5,-5.9,-5.3,-4.7,-3.9,-3.2,-2.6,-2,-1.4,-.8,-.2,.4,2.2,2.5]),(-7.5,[-6.6,-6,-5.4,-4.3,-3.5,-2.9,-2.3,-1.7,-1.2,-.9,-.3,.3,1.9,2.4,2.9]),(-8,[-6.1,-5.5,-4.6,-3.6,-2.9,-2.3,-1.6,-.9,-.3,.3,1.5,2.2,2.8,3.4]),(-8.5,[-7.7,-6.8,-6,-5.4,-4.8,-4.2,-3.6,-3,-2.4,-1.9,-1.3,-.7,0,.7,1.4,2.2,2.9,3.5,3.9]),(-9,[-7.9,-7.3,-6.7,-6,-5.2,-4.6,-4,-3.4,-2.5,-1.6,-1,-.4,.2,.8,1.4,2,2.6,3.2,3.9,4.2]),(-9.5,[-7.8,-7.2,-6.5,-5.7,-5,-4.4,-3.6,-2.8,-2,-1.4,-.7,0,.6,1.2,1.8,2.4,3,3.6,4.3]),(-10,[-8,-7.4,-6.8,-6.2,-5.6,-5,-4.3,-3.8,-3.2,-2.6,-1.6,-.9,-.3,.3,1.2,1.9,2.5,3.3,3.9,4.6]),(-10.4,[-10.2]),(-10.5,[-8,-7.4,-6.8,-6.2,-5.6,-5,-4.4,-3.8,-3.2,-2.4,-1.8,-1.2,-.6,0,.5,1.1,1.7,2.8,3.4,4,4.6]),(-11,[-7.5,-6.8,-6.2,-5.5,-4.8,-4.2,-3.6,-3,-2.4,-1.8,-1.2,-.4,.2,.8,1.4,2,2.6,3.2,3.8,4.4]),(-11.5,[-7.6,-7,-6.4,-5.8,-5.2,-4.6,-4,-3.4,-2.8,-2.2,-1.5,-.8,-.2,.4,1,1.8,2.6,3.2,3.8,4.5,5.2]),(-12,[-7.5,-6.9,-6,-5.4,-4.8,-4.2,-3.6,-3,-2.4,-1.8,-1.1,-.5,.1,.8,1.5,2.1,3,3.6,4.2,5.2,5.4]),(-12.5,[-7,-6.4,-5.8,-5.2,-4.6,-4,-3.4,-2.8,-2.2,-1.6,-.9,-.1,.6,1.2,1.8,2.4,3,3.6,4.2,4.8,5.6]),(-13,[-7,-6.4,-5.8,-5,-4.2,-3.6,-3,-2.4,-1.7,-.6,.4,1,1.6,2.2,2.8,3.4,4.3,5,5.8]),(-13.5,[-6.8,-6.3,-5.5,-4.6,-3.9,-3.2,-2.6,-1.8,-1.2,-.4,.2,.9,1.5,2,2.6,3.2,3.9,4.6,5.3,6]),(-14,[-6.4,-6,-4.9,-4.2,-3.4,-2.8,-2.2,-1.6,-.9,-.3,.5,1.1,1.9,2.5,3.1,3.8,4.5,5.7,6]),(-14.5,[-4.7,-4.1,-3.4,-2.7,-2.1,-1.5,-.9,.3,1,1.6,2.2,2.8,3.4,3.9,5.7]),(-15,[-4.6,-4,-3.4,-2.6,-2,-1.4,-.7,0,.8,1.5,2.2,2.8,3.4,3.9]),(-15.3,[-3.8,-3.3,-2.6,-2,-1.4,-.8,-.2,.4,1,1.6,2.1,3.2,3.9]),(-15.7,[-1.8,-1.2,-.7,-.1,.5,1.9])]
P4_PURPLE = [(3.2,[9.8,10.4,14.3]),(2.8,[9.5,10.1,10.7,11.3,14,14.6,-5.5]),(2.3,[9,9.7,10.3,11,11.6,12.2,12.8,13.4,14,14.6]),(1.8,[8.5,9.1,9.7,10.3,11,11.6,12.2,12.9,13.5,14.1,14.7,15.3]),(1.3,[8.3,8.9,9.5,10.1,10.8,11.4,12,12.6,13.2,13.8,14.4,15,15.5]),(.8,[8.2,8.8,9.4,10,10.6,11.2,11.8,12.4,13,13.6,14.2,14.8,15.4,16]),(.3,[7.9,8.5,9.1,9.7,10.3,11,11.7,12.4,13,13.6,14.2,14.8,15.4,16]),(-.2,[5,6.5,7.1,7.7,8.5,9.1,10,10.7,11.4,12,12.9,13.5,14.1,14.7,15.3,16,16.3]),(-.7,[4,4.6,5.3,5.9,6.5,7.1,7.7,8.3,8.9,9.5,10.1,10.7,11.3,11.9,12.5,13.1,13.7,14.3,14.9,15.5,16.4,16.8]),(-1.2,[3.9,4.4,5,5.6,6.2,6.8,7.4,8,8.6,9.2,9.8,10.4,11,11.6,12.2,12.8,13.4,14,14.6,15.2,15.8,16.5]),(-1.3,[-.3]),(-1.7,[.4,1,1.5,3.8,4.4,5,5.6,6.2,6.8,7.4,8,8.6,9.2,9.8,10.5,11.2,11.8,12.4,13,13.6,14.2,14.8,15.5]),(-1.8,[-7.5]),(-2.2,[1.2,1.8,2.3,3.9,4.5,5.2,5.8,6.4,7,7.6,8.3,9,9.6,10.2,10.8,11.4,12,12.6,13.2,13.8,14.4,15]),(-2.7,[2.2,3,3.6,4.2,4.8,5.4,6,6.6,7.2,7.8,8.6,9.2,9.8,10.4,11,11.6,12.2,12.8,13.4,14,15]),(-3.2,[2.4,3,3.6,4.2,4.8,6,7.5,8.1,8.7,9,10.2,10.8,11.4,12,12.6,13.2,13.8,14.4,14.9]),(-3.7,[2.5,3.1,3.7,4.3,5,5.6,6.2,7,8.1,9.4,10.1,10.7,11.3,11.9,12.5,13.1,13.7,14.4,14.7]),(-4.2,[2.6,3.2,3.8,4.4,5.2,6.2,7,7.6,9.8,10.4,11,11.6,12.2,12.8,13.4,14,14.5,15.9,16.5]),(-4.7,[3,3.5,4.1,4.9,5.5,6.2,6.7,7.2,7.7,9.9,10.5,11.1,11.7,12.3,12.9,13.5,15.7,16.2,16.5]),(-5.2,[3.1,3.7,4.3,4.9,5.5,6.1,6.7,7.3,7.9,8.5,9.1,9.7,10.3,10.9,11.5,12.1,12.7,13.3,14.2,16,16.4]),(-5.7,[4,4.6,5.2,5.8,6.4,7,7.6,8.2,8.8,9.4,10,10.6,11.2,11.8,12.4,13,13.6,14.2]),(-6.2,[4.7,5.3,5.9,6.5,7.1,7.7,8.3,8.9,9.4,10,10.6,11.8,12.4,13,13.6,14.2,14.7]),(-6.7,[5.2,5.8,6.4,7,7.6,8.2,8.8,9.4,10,10.5,11.6,12.2,12.8,13.4,14,14.5]),(-7.2,[5.7,6.2,7,7.6,8.2,8.8,9.4,10.1,10.7,11.4,12,12.6,13.2,13.8,14.1]),(-7.7,[6.2,7.5,8.2,8.8,9.4,10,11,11.6,12.2,12.8,13.4,14]),(-8.2,[8.4,9,9.6,10.2,10.7,12,12.6,13.2,13.8]),(-8.7,[8.4,9,9.6,10.2,10.8,11.4,12,12.6,13.2,13.7]),(-9.1,[8.5,9.1,9.7,10.3,10.9,11.5,12,12.6,13.2]),(-9.6,[9.6,10.4,11,11.2,12.2,12.6])]
P4_GRAY = [(13,[-9.7]),(12.5,[-10.5,-7.6,-7,-6.5]),(12,[-11.5,-10.6,-8,-7.4,-6.8,-6.2,-5.7]),(11.5,[-11.9,-11.3,-10.6,-9.9,-9.3,-8,-7.2,-6.6,-6,-5.4,-4.9]),(11,[-11.9,-11.3,-10,-9.4,-8.8,-8.2,-7.6,-7,-6.4,-5.8,-5.2,-4.6]),(10.5,[-11,-10.4,-9.8,-9.2,-8.6,-8,-7.4,-6.8,-6.2,-5.5,-4.9,-4.3]),(10,[-14.3,-13.7,-12.8,-12.2,-11.6,-11,-10.4,-9.6,-8.8,-8.2,-7.4,-6.7,-6,-5.2,-4.3,-3.8]),(9.5,[-14.5,-14,-12.6,-12,-11.2,-9.4,-8.8,-8.2,-7.6,-7,-6.4,-5.8,-5.2,-4.6,-4,-3.4,-2.9]),(9,[-13,-12.2,-11.6,-9.4,-8.8,-8.2,-7.6,-7,-6.4,-5.8,-5.2,-4.6,-4,-3.4,-2.8]),(8.5,[-12.7,-12,-11.4,-10.8,-9.2,-8.6,-8,-7.4,-6.8,-6.1,-5.5,-4.9,-4.3,-3.7,-3.1,-2.6]),(8,[-14.1,-13.5,-12.6,-11.9,-11.3,-10.7,-9.8,-9.2,-8.6,-8,-7.4,-6.6,-6,-5.4,-4.8,-4.2,-3.6,-3,-2.5]),(7.5,[-14.2,-13.6,-13,-12.2,-10.9,-10.3,-9.7,-9.1,-8.5,-7.9,-7.3,-6.7,-6.1,-5.5,-4.9,-4.3,-3.7,-3.1,-2.5,-2.1]),(7,[-14.3,-13.7,-13.1,-12.5,-11.9,-10.8,-10.2,-9.6,-9,-8.4,-7.8,-7.2,-6.6,-6,-5.4,-4.8,-4.2,-3.6,-3,-2.4,-2]),(6.5,[-15.4,-14.8,-14.2,-13.6,-12.4,-11.6,-11,-10.4,-9.8,-9.2,-8.6,-8,-7.4,-6.8,-6.2,-5.6,-4.9,-4.3,-3.7,-3.1,-2.5,-1.9]),(6,[-15.5,-14.9,-14.3,-13.7,-13.1,-12.5,-11.8,-11,-9.6,-9,-8.4,-6.6,-5.4,-4.8,-4.2,-3.4,-2.8,-2.2,-1.8]),(5.5,[-15.7,-15.1,-14.5,-13.9,-13.2,-12.6,-12,-11.3,-10.5,-9.8,-9,-6.9,-5.6,-4.9,-4.2,-3.3,-2.7,-2]),(5,[-14.8,-14.2,-13.6,-13,-12.4,-11.6,-10.3,-9.7,-9.1,-8,-6.8,-5,-4.3,-3.6,-3,-2.4,-1.9]),(4.5,[-14.3,-13.6,-13,-12.4,-11.6,-10.7,-9.5,-8.8,-7.8,-6.8,-6,-5.2,-4.4,-3.7,-3,-2.4,-1.7]),(4,[-15.2,-14.6,-13.8,-13,-12.2,-11.5,-10.8,-9.4,-8.6,-7.8,-7,-6.4,-5.8,-5,-3.4,-2.6,-1.9]),(3.5,[-15.6,-15,-14.4,-13.8,-13.2,-12.5,-11.8,-11.1,-10.4,-9.7,-9,-8.3,-7.6,-7,-6.4,-5.8,-5.2,-4.6,-3.8,-3.1,-2.4,-1.9]),(3,[-16,-15.4,-14.8,-14.2,-13.5,-12.9,-12.3,-11.7,-11,-10.4,-9.4,-8.7,-8.1,-7.5,-6.9,-6.3,-4.8,-3.8,-3,-2.4]),(2.5,[-15.7,-15.1,-14.5,-13.9,-13.2,-12.6,-12,-11.2,-10.5,-9.8,-9.2,-8.6,-8,-7.4,-6.8,-6.2,-4.5,-3.7,-3,-2.4,-1.9]),(2,[-15.3,-14.7,-14.1,-13.5,-12.9,-12.3,-11.7,-11.1,-10.4,-9.8,-9.2,-8.6,-8,-7.4,-6.8,-6,-5.2,-4.5,-3.9,-3.2,-2.6,-2]),(1.5,[-15.2,-14.6,-14,-13.4,-12.7,-12,-11.4,-10.8,-10.2,-9.6,-9,-8.4,-7.8,-7.2,-6.6,-6,-5.2,-4.8,-4.3]),(1,[-14.9,-14.3,-13.7,-12.7,-12,-11.4,-10.8,-10.2,-9.6,-9,-8.4,-7.8,-7.2,-6.6,-6,-5.4]),(.5,[-15.2,-13.2,-12.6,-11.7,-11.1,-10.5,-9.9,-9.3,-8.7,-8.1,-7.5,-6.9,-6.3,-5.7,-5]),(0,[-14.3,-13.7,-13.1,-12.5,-11.9,-11.1,-10.2,-9.7,-9.1,-8.5,-7.9,-7.3,-6.7,-6.1,-5.5,-4.9,-4.3]),(-.5,[-14.5,-13.9,-12.4,-11.8,-11,-10.3,-9.4,-8.8,-8.2,-7.6,-7,-6.1,-5.5,-4.9,-4.2,-3.9]),(-1,[-14.9,-14.3,-13.7,-12.6,-12,-11.4,-10.8,-10.2,-9.5,-8.9,-8.3,-7.7,-7,-6.4,-5.8,-5.2,-4.5,-4]),(-1.5,[-14.7,-13.3,-12.6,-12,-11.4,-10.8,-10.2,-9.6,-9,-8.4,-7.8,-7.2,-6.6,-6,-5.4,-4.8,-4.2]),(-2,[-14.5,-13.9,-13.2,-12.6,-12,-11.3,-10.7,-10.1,-9.5,-8.9,-8.3,-7.6,-7,-6.2,-5.6,-5,-4.3]),(-2.5,[-13.8,-13.1,-12.5,-11.8,-11.1,-10.2,-9.6,-9,-8.4,-7.8,-7.2,-6.6,-5.7,-5,-4.6]),(-3,[-13.2,-12.6,-12,-11.4,-10.8,-10.2,-9.6,-8.8,-8.2,-7.6,-7,-6.4,-5.8,-5.2]),(-3.5,[-13,-12.4,-11.8,-11.2,-10.5,-9.9,-9.3,-8.7,-8,-7.4,-6.8,-6.2]),(-4,[-12.5,-11.9,-11.3,-10.7,-10.1,-9.5,-8.9,-8.3,-7.7,-7.2]),(-4.4,[-12,-11.5,-10.9,-10.3,-9.7,-8.8,-7.8,-7.3,-7]),(-4.8,[-11.6,-11,-10.5,-10,-9.5]),(-5.2,[-11.1,-10.7,-10]),(4.5,[11,11.4]),(4.2,[10.2,10.8,11.5]),(3.7,[10,11.8,12.4,13,13.5]),(3.2,[11,11.7,12.3,13,13.5,14]),(2.7,[9.2,9.6,10.9,11.4,12,12.5,13,13.6,14.1]),(2.2,[8.5,9.2,10,11,11.5,12.2,14.4,15,15.8,16.3]),(1.7,[7.6,8.3,10.4,11.5,14.2,14.8,15.4,16]),(1.2,[7.2,7.7,8.7,9,9.9,11.2,11.7,13,15.9]),(.7,[7.3,7.9,8.6,9.3,11.8,13.3,13.7,16.2,16.4]),(.3,[5.6,6.2,7.6,8.3,9,9.8,10.3,11.3,14.3,14.7,16.2]),(-.2,[4.5,5,5.6,6.2,7.8,8.3,11.5,12.5,13,13.3,14.3,16.5]),(-.6,[4,5.2,5.7,6.3,7.8,8.5,12.9,13.3]),(-1,[5.2,7.8,8.5,9,9.3,-2.6]),(-1.4,[4.7,5.4,7.9,8.9,9.4,9.8,-1.5]),(-1.7,[3.2,6.8,7.3,8,8.9,9.3,9.7,10]),(-2,[9,9.5]),(-2.3,[6,9,9.6,10.2,10.8,11.3,11.8,12.4]),(-2.5,[-3.4]),(-2.7,[6.1,9.4,10,11.4,11.7]),(-3.4,[12.5]),(-3.7,[10.4,6.9]),(-4.9,[-5]),(-5.2,[10.5]),(-5.8,[6.7]),(-6.1,[14.4]),(-7.6,[14])]

PANELS = [[P1_RED, P1_BLUE, P1_PURPLE, P1_GRAY], [P2_RED, P2_BLUE, P2_PURPLE, P2_GRAY], [P3_RED, P3_BLUE, P3_PURPLE, P3_GRAY], [P4_RED, P4_BLUE, P4_PURPLE, P4_GRAY]]


def lab(v):
    return ("\u2212" + str(-v)) if v < 0 else str(v)


fig = go.Figure()
layout = dict(width=W, height=H, margin=dict(l=0, r=0, t=0, b=0, autoexpand=False), paper_bgcolor="white", plot_bgcolor="#E5E5E5", showlegend=False, annotations=[])
for i in range(4):
    x0, x1, y0, y1 = BOXES[i]
    s = "" if i == 0 else str(i + 1)
    for c, rows in enumerate(PANELS[i]):
        xs = [x for _, r in rows for x in r]
        ys = [y for y, r in rows for _ in r]
        fig.add_trace(go.Scatter(x=xs, y=ys, mode="markers", marker=dict(size=10, color=COLORS[c], line=dict(width=0)), xaxis="x" + s, yaxis="y" + s, hoverinfo="skip"))
    common = dict(showgrid=True, gridcolor="white", gridwidth=2.5, zeroline=False, showline=False, ticks="outside", ticklen=9, tickwidth=2.5, tickcolor="#555555",
                  tickfont=dict(family="Liberation Sans", size=26, color="#555555"), anchor="free", automargin=False)
    layout["xaxis" + s] = dict(common, domain=[x0 / W, x1 / W], range=list(XR[i]), tickmode="array", tickvals=XT[i], ticktext=[lab(v) for v in XT[i]], position=1 - (y1 + 5) / H, ticklabelstandoff=-4)
    layout["yaxis" + s] = dict(common, domain=[1 - y1 / H, 1 - y0 / H], range=list(YR[i]), tickmode="array", tickvals=YT[i], ticktext=[lab(v) for v in YT[i]], position=(x0 - 5) / W, ticklabelstandoff=1)
    layout["annotations"].append(dict(text=TITLES[i], xref="paper", yref="paper", x=(x0 + x1) / 2 / W, y=1 - (y0 - 10) / H, xanchor="center", yanchor="bottom", showarrow=False, font=dict(family="Liberation Sans", size=35, color="black")))
fig.update_layout(**layout)
post = """
document.body.style.margin='0';
function sp(){
document.querySelectorAll('g[class$="tick"] text').forEach(t=>t.style.letterSpacing='4px');
document.querySelectorAll('.annotation-text').forEach(t=>t.style.letterSpacing='4.4px');
}
sp();
var gd=document.getElementById('{plot_id}');
gd.on('plotly_afterplot',sp);
setTimeout(sp,200);
"""
fig.write_html("out.html", post_script=post, config={"displayModeBar": False})
